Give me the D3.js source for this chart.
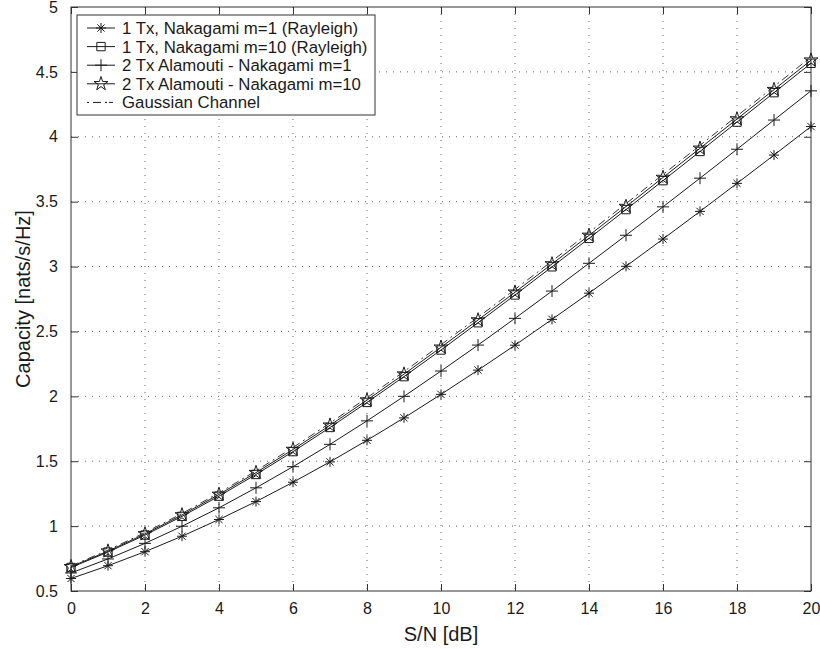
<!DOCTYPE html>
<html>
<head>
<meta charset="utf-8">
<script src="https://cdn.jsdelivr.net/npm/d3@7"></script>
<style>
  body { margin: 0; background: #fff; }
  text { font-family: "Liberation Sans", Arial, Helvetica, sans-serif; fill: #1a1a1a; }
</style>
</head>
<body>
<div id="wrapper"></div>
<script>
// data
const snrDb = [0, 1, 2, 3, 4, 5, 6, 7, 8, 9, 10, 11, 12, 13, 14, 15, 16, 17, 18, 19, 20];

const rayleigh1Tx = [0.596, 0.695, 0.803, 0.922, 1.051, 1.189, 1.338, 1.495, 1.661, 1.834, 2.015,
  2.202, 2.394, 2.593, 2.795, 3.002, 3.212, 3.425, 3.641, 3.859, 4.079];
const nakagami10_1Tx = [0.681, 0.800, 0.931, 1.075, 1.231, 1.398, 1.574, 1.760, 1.953, 2.152, 2.357,
  2.567, 2.781, 2.998, 3.217, 3.439, 3.662, 3.887, 4.113, 4.340, 4.566];
const alamouti1 = [0.639, 0.747, 0.867, 0.999, 1.141, 1.295, 1.458, 1.630, 1.811, 2.000, 2.195,
  2.395, 2.601, 2.811, 3.025, 3.241, 3.460, 3.681, 3.904, 4.129, 4.354];
const alamouti10 = [0.687, 0.807, 0.940, 1.086, 1.244, 1.412, 1.590, 1.777, 1.971, 2.171, 2.378,
  2.588, 2.802, 3.020, 3.240, 3.462, 3.686, 3.911, 4.137, 4.363, 4.590];
const gaussian = [0.693, 0.815, 0.950, 1.097, 1.256, 1.426, 1.606, 1.794, 1.989, 2.191, 2.398,
  2.609, 2.824, 3.042, 3.263, 3.485, 3.709, 3.934, 4.160, 4.387, 4.615];

const xTicks = [0, 2, 4, 6, 8, 10, 12, 14, 16, 18, 20];
const yTicks = [0.5, 1, 1.5, 2, 2.5, 3, 3.5, 4, 4.5, 5];

const seriesNames = [
  '1 Tx, Nakagami m=1 (Rayleigh)',
  '1 Tx, Nakagami m=10 (Rayleigh)',
  '2 Tx Alamouti - Nakagami m=1',
  '2 Tx Alamouti - Nakagami m=10',
  'Gaussian Channel'
];
const seriesValues = [rayleigh1Tx, nakagami10_1Tx, alamouti1, alamouti10, gaussian];
const seriesMarkers = ['asterisk', 'square', 'plus', 'star', 'none'];

// dimensions
let dimensions = {
  width: 820,
  height: 649,
  margin: { top: 7, right: 9, bottom: 58, left: 71 }
};
dimensions.boundedWidth = dimensions.width - dimensions.margin.left - dimensions.margin.right;
dimensions.boundedHeight = dimensions.height - dimensions.margin.top - dimensions.margin.bottom;

const wrapper = d3.select('#wrapper')
  .append('svg')
  .attr('width', dimensions.width)
  .attr('height', dimensions.height);

const bounds = wrapper.append('g')
  .attr('transform', `translate(${dimensions.margin.left},${dimensions.margin.top})`);

// scales
const xScale = d3.scaleLinear().domain([0, 20]).range([0, dimensions.boundedWidth]);
const yScale = d3.scaleLinear().domain([0.5, 5]).range([dimensions.boundedHeight, 0]);

// grid
const gridColor = '#666';
bounds.append('g').selectAll('line')
  .data(xTicks.slice(1, -1))
  .join('line')
  .attr('x1', d => xScale(d)).attr('x2', d => xScale(d))
  .attr('y1', 0).attr('y2', dimensions.boundedHeight)
  .attr('stroke', gridColor).attr('stroke-width', 1)
  .attr('stroke-dasharray', '1,6');
bounds.append('g').selectAll('line')
  .data(yTicks.slice(1, -1))
  .join('line')
  .attr('x1', 0).attr('x2', dimensions.boundedWidth)
  .attr('y1', d => yScale(d)).attr('y2', d => yScale(d))
  .attr('stroke', gridColor).attr('stroke-width', 1)
  .attr('stroke-dasharray', '1,6');

// axes (ticks inward on all sides)
const tickLen = 7;
const styleAxis = g => {
  g.select('.domain').remove();
  g.selectAll('line').attr('stroke', '#333');
  g.selectAll('text')
    .style('font-family', '"Liberation Sans", Arial, sans-serif')
    .style('font-size', '16px')
    .attr('fill', '#1a1a1a');
};
bounds.append('g')
  .attr('transform', `translate(0,${dimensions.boundedHeight})`)
  .call(d3.axisBottom(xScale).tickValues(xTicks).tickSizeInner(-tickLen).tickSizeOuter(0).tickPadding(12).tickFormat(d3.format('d')))
  .call(styleAxis);
bounds.append('g')
  .call(d3.axisTop(xScale).tickValues(xTicks).tickSizeInner(-tickLen).tickSizeOuter(0).tickFormat(''))
  .call(styleAxis);
bounds.append('g')
  .call(d3.axisLeft(yScale).tickValues(yTicks).tickSizeInner(-tickLen).tickSizeOuter(0).tickPadding(13).tickFormat(d => String(d)))
  .call(styleAxis);
bounds.append('g')
  .attr('transform', `translate(${dimensions.boundedWidth},0)`)
  .call(d3.axisRight(yScale).tickValues(yTicks).tickSizeInner(-tickLen).tickSizeOuter(0).tickFormat(''))
  .call(styleAxis);

bounds.append('rect')
  .attr('width', dimensions.boundedWidth)
  .attr('height', dimensions.boundedHeight)
  .attr('fill', 'none')
  .attr('stroke', '#333')
  .attr('stroke-width', 1);

// markers
const markerPath = (type) => {
  if (type === 'asterisk') {
    const r = 5, q = r * 0.72;
    return `M${-r},0L${r},0M0,${-r}L0,${r}M${-q},${-q}L${q},${q}M${-q},${q}L${q},${-q}`;
  }
  if (type === 'plus') {
    const r = 6;
    return `M${-r},0L${r},0M0,${-r}L0,${r}`;
  }
  if (type === 'square') return d3.symbol(d3.symbolSquare, 70)();
  if (type === 'star') return d3.symbol(d3.symbolStar, 60)();
  return '';
};

const lineGenerator = d3.line()
  .x((d, i) => xScale(snrDb[i]))
  .y(d => yScale(d));

seriesValues.forEach((values, s) => {
  const isGauss = seriesMarkers[s] === 'none';
  bounds.append('path')
    .datum(values)
    .attr('d', lineGenerator)
    .attr('fill', 'none')
    .attr('stroke', isGauss ? '#333' : '#1a1a1a')
    .attr('stroke-width', 1)
    .attr('stroke-dasharray', isGauss ? '8,4,2,4' : null);
  if (!isGauss) {
    bounds.append('g').selectAll('path')
      .data(values)
      .join('path')
      .attr('transform', (d, i) => `translate(${xScale(snrDb[i])},${yScale(d)})`)
      .attr('d', markerPath(seriesMarkers[s]))
      .attr('fill', 'none')
      .attr('stroke', '#1a1a1a')
      .attr('stroke-width', 1);
  }
});

// axis labels
wrapper.append('text')
  .attr('x', dimensions.margin.left + dimensions.boundedWidth / 2)
  .attr('y', 641)
  .attr('text-anchor', 'middle')
  .style('font-size', '20px')
  .text('S/N [dB]');

wrapper.append('text')
  .attr('transform', `translate(30,${dimensions.margin.top + dimensions.boundedHeight / 2}) rotate(-90)`)
  .attr('text-anchor', 'middle')
  .style('font-size', '20px')
  .text('Capacity [nats/s/Hz]');

// legend
const legend = wrapper.append('g').attr('transform', 'translate(77,15)');
legend.append('rect')
  .attr('width', 298).attr('height', 100)
  .attr('fill', '#fff').attr('stroke', '#333').attr('stroke-width', 1);
const rowGap = 18.6;
seriesNames.forEach((name, s) => {
  const y = 13 + s * rowGap;
  const isGauss = seriesMarkers[s] === 'none';
  legend.append('line')
    .attr('x1', 10).attr('x2', 38).attr('y1', y).attr('y2', y)
    .attr('stroke', '#1a1a1a').attr('stroke-width', 1)
    .attr('stroke-dasharray', isGauss ? '2,4,8,4,2' : null);
  if (!isGauss) {
    legend.append('path')
      .attr('transform', `translate(24,${y})`)
      .attr('d', markerPath(seriesMarkers[s]))
      .attr('fill', 'none').attr('stroke', '#1a1a1a').attr('stroke-width', 1);
  }
  legend.append('text')
    .attr('x', 45).attr('y', y)
    .attr('dy', '0.36em')
    .style('font-size', '16.8px')
    .text(name);
});
</script>
</body>
</html>
